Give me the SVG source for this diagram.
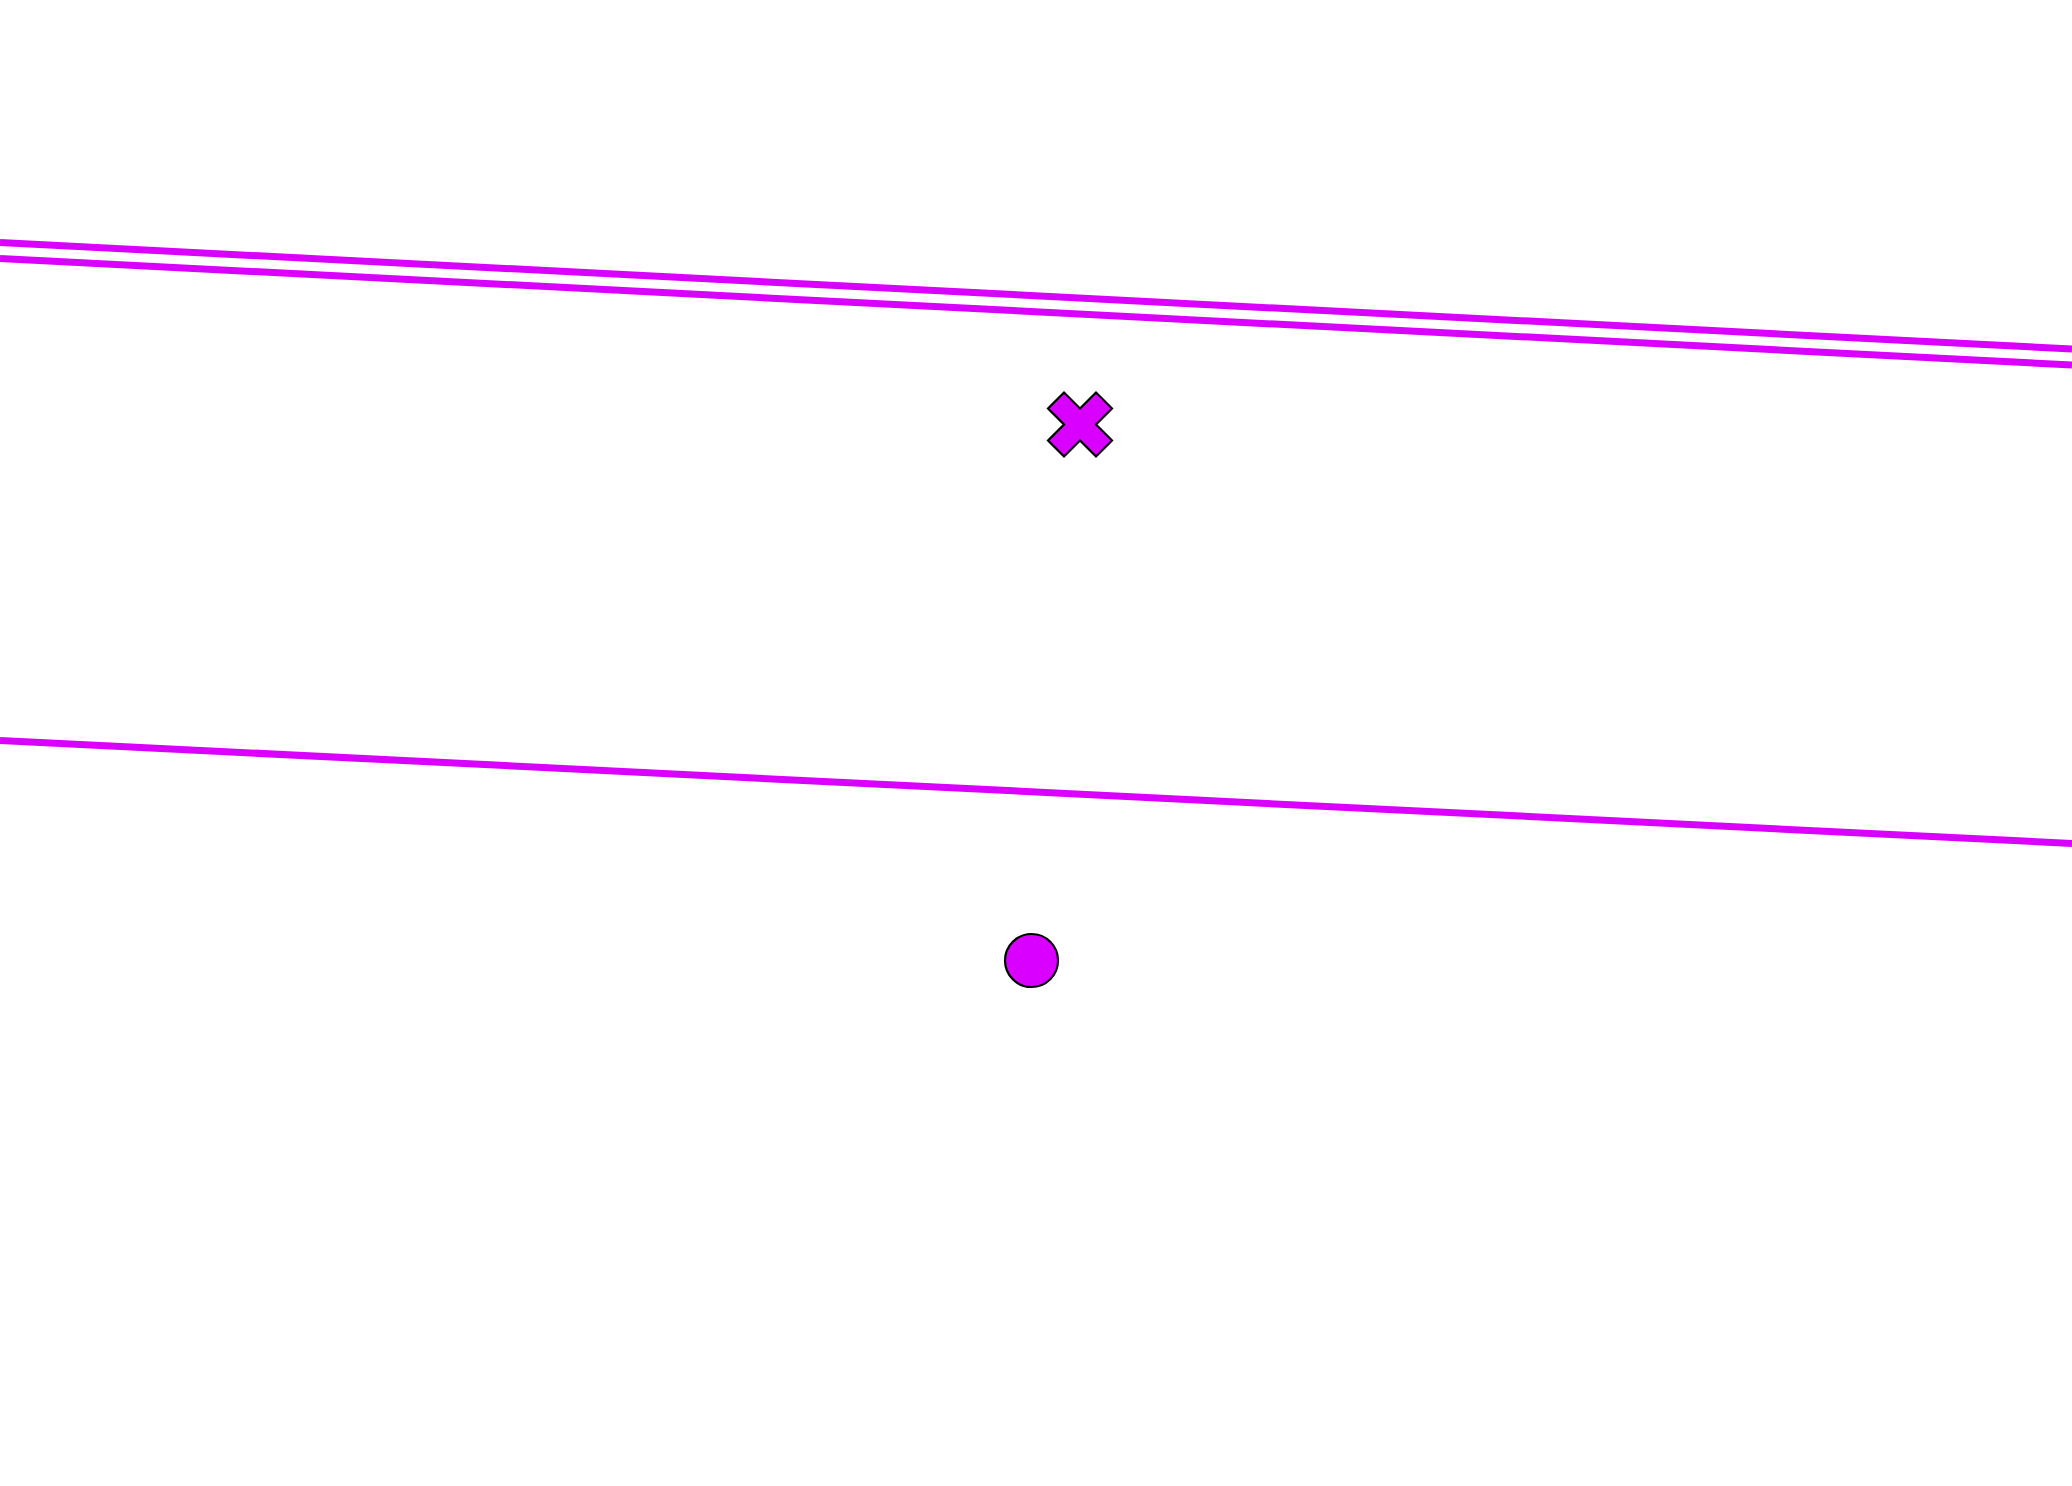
<svg xmlns="http://www.w3.org/2000/svg" width="2072" height="1486" viewBox="0 0 2072 1486">
<style>
.ln{stroke:#d900ff;stroke-width:7;fill:none}
.mk{fill:#d900ff;stroke:#000;stroke-width:2.2}
</style>
<rect width="2072" height="1486" fill="#fff"/>
<g id="connectors">
<line class="ln" x1="0" y1="242.5" x2="2072" y2="349"/>
<line class="ln" x1="0" y1="258.5" x2="2072" y2="365"/>
<line class="ln" x1="0" y1="740.5" x2="2072" y2="843.5"/>
</g>
<g id="cross">
<polygon class="mk" transform="translate(1080,424.5)" points="0,-16 16,-32 32,-16 16,0 32,16 16,32 0,16 -16,32 -32,16 -16,0 -32,-16 -16,-32"/>
</g>
<g id="dot">
<circle class="mk" cx="1031.5" cy="960.5" r="26.5"/>
</g>
</svg>
